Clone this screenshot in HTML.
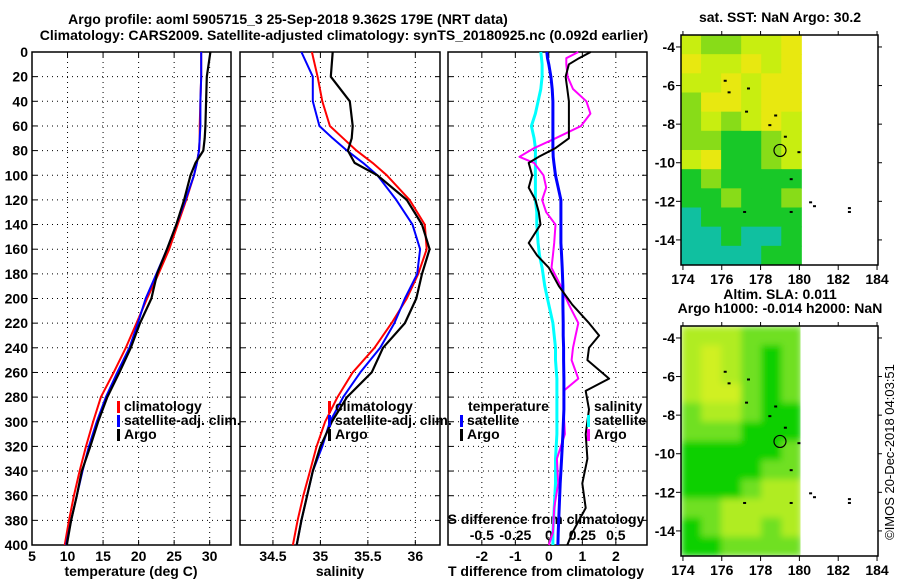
<!DOCTYPE html>
<html><head><meta charset="utf-8"><style>
html,body{margin:0;padding:0;background:#fff;}
svg{display:block;font-family:"Liberation Sans",sans-serif;font-weight:bold;font-size:14px;}
</style></head><body>
<svg id="c" width="900" height="580" viewBox="0 0 900 580">
<defs>
<filter id="blur" x="0" y="0" width="1" height="1"><feGaussianBlur stdDeviation="3.5" edgeMode="duplicate"/></filter>
<clipPath id="clipSla"><rect x="681" y="326" width="119.5" height="230"/></clipPath>
</defs>
</svg>
<script>
// ---- data ----
const depths = [0,20,40,60,70,80,90,100,120,140,160,180,200,220,240,260,280,300,320,340,360,380,400];
const tempClim = [28.8,28.8,28.7,28.6,28.6,28.5,28.2,27.8,26.7,25.5,24.3,22.8,21.2,19.7,18.2,16.5,14.7,13.6,12.6,11.7,10.9,10.2,9.6];
const tempSat  = [28.8,28.8,28.7,28.7,28.6,28.5,28.2,27.8,26.6,25.3,24.0,22.5,21.0,19.9,18.7,17.0,15.4,14.1,13.0,12.1,11.3,10.5,9.8];
const tempArgo = [30.1,29.6,29.5,29.4,29.3,29.1,28.0,27.3,26.4,25.3,24.0,22.6,21.8,20.2,18.9,17.3,15.6,14.3,13.2,12.0,11.3,10.5,9.9];
const salClim = [34.91,34.97,35.02,35.10,35.24,35.38,35.55,35.70,35.94,36.10,36.12,36.03,35.91,35.75,35.57,35.34,35.18,35.05,34.96,34.89,34.82,34.76,34.71];
const salSat  = [34.80,34.92,34.92,34.99,35.13,35.28,35.45,35.60,35.80,35.97,36.05,36.02,35.89,35.78,35.63,35.42,35.24,35.10,35.02,34.92,34.86,34.80,34.75];
const salArgo = [35.13,35.11,35.31,35.34,35.33,35.29,35.36,35.60,35.91,36.07,36.15,36.07,36.01,35.89,35.66,35.54,35.28,35.12,35.00,34.92,34.86,34.80,34.75];
const diffDepths = [0,5,10,20,30,40,50,60,70,78,85,90,100,110,120,130,140,155,165,175,190,205,220,230,240,250,265,275,290,310,330,350,370,390,400];
const dTSat  = [-0.06,-0.04,0,0.06,0.1,0.12,0.12,0.12,0.12,0.12,0.13,0.15,0.2,0.28,0.36,0.36,0.36,0.36,0.38,0.4,0.42,0.42,0.43,0.43,0.44,0.44,0.45,0.45,0.45,0.42,0.38,0.34,0.31,0.28,0.27];
const dTArgo = [1.25,0.9,0.6,0.5,0.55,0.6,0.6,0.6,0.6,0.2,-0.3,-0.6,-0.5,-0.6,-0.4,-0.3,-0.25,-0.6,-0.35,0,0.3,0.7,1.2,1.5,1.2,1.15,1.8,1.1,1.2,1.1,1.15,1.0,1.1,0.7,0.55];
const dSSat  = [-0.06,-0.055,-0.05,-0.05,-0.06,-0.08,-0.1,-0.13,-0.11,-0.1,-0.1,-0.1,-0.1,-0.1,-0.1,-0.09,-0.09,-0.08,-0.07,-0.05,-0.03,0,0.03,0.04,0.05,0.05,0.06,0.06,0.06,0.06,0.05,0.05,0.04,0.03,0.03];
const dSArgo = [0.22,0.13,0.13,0.14,0.18,0.28,0.31,0.24,0.05,-0.11,-0.22,-0.11,-0.04,-0.02,-0.05,-0.02,0.05,0.04,0.03,0.02,0.09,0.15,0.22,0.2,0.18,0.17,0.22,0.11,0.11,0.12,0.06,0.07,0.04,0.03,0];
const tempTicks = [5,10,15,20,25,30];
const salTicks = [34.5,35,35.5,36];
const dTTicks = [-2,-1,0,1,2];
const dSTicks = [-0.5,-0.25,0,0.25,0.5];
const depthTicks = [0,20,40,60,80,100,120,140,160,180,200,220,240,260,280,300,320,340,360,380,400];
const lonTicks = [174,176,178,180,182,184];
const latTicks = [-4,-6,-8,-10,-12,-14];
// map grids: rows lat -3.4..-15.3, cols lon 174..180 (class index)
const sstGrid = [
[3,2,2,3,3,4],[4,3,3,4,3,4],[3,3,4,3,4,4],[2,4,4,3,4,4],[2,3,2,3,4,3],[2,2,1,1,2,3],
[3,4,1,1,2,3],[1,2,1,1,1,1],[1,1,2,1,1,2],[0,1,1,1,1,1],[0,0,1,0,0,1],[0,0,0,0,1,1]];
const slaGrid = [
[3,3,3,2,2,2],[3,4,3,2,1,2],[3,4,3,2,1,2],[3,4,4,2,1,2],[2,3,3,2,1,1],[2,2,2,1,1,1],
[1,1,1,1,1,2],[1,1,1,1,2,2],[1,1,1,2,3,3],[2,2,3,3,3,3],[1,2,3,3,2,3],[1,1,2,2,2,2]];
const sstColors = ['#10c0a0','#18c828','#88dc18','#c8ee10','#e8e810'];
const slaColors = ['#00c000','#10d000','#70e020','#b0ec20','#d0f020'];
const islands = [[176.1,-5.7],[176.3,-6.3],[177.3,-6.1],[177.2,-7.3],[178.7,-7.5],[178.4,-8.0],[179.2,-8.6],[179.9,-9.4],[179.5,-10.8],[180.5,-12.0],[180.7,-12.2],[177.1,-12.5],[179.5,-12.5],[182.5,-12.3],[182.5,-12.5]];

const svg = document.getElementById('c');
const NS = 'http://www.w3.org/2000/svg';
function mk(tag, attrs, parent){ const e=document.createElementNS(NS,tag); for(const k in attrs) e.setAttribute(k,attrs[k]); (parent||svg).appendChild(e); return e; }
function txt(x,y,s,anchor,parent){ const t=mk('text',{x:x,y:y,'text-anchor':anchor||'middle'},parent); t.textContent=s; return t; }

const TOP=52, BOT=545;
const yD = d => TOP + d*(BOT-TOP)/400;

function panel(name, x0, x1, vmin, vmax, ticks, fmt, leftLabels){
  const g = mk('g',{});
  
  
  const sx = v => x0 + (v-vmin)*(x1-x0)/(vmax-vmin);
  depthTicks.forEach(d=>{
    const y=yD(d);
    if(d>0&&d<400) mk('line',{x1:x0,x2:x1,y1:y,y2:y,stroke:'#000','stroke-dasharray':'1 4','stroke-width':1},g);
    mk('line',{x1:x0,x2:x0+5,y1:y,y2:y,stroke:'#000'},g);
    mk('line',{x1:x1-5,x2:x1,y1:y,y2:y,stroke:'#000'},g);
    if(leftLabels){ const t=txt(x0-4,y+5,String(d),'end',g);   }
  });
  ticks.forEach(v=>{
    const x=sx(v);
    mk('line',{x1:x,x2:x,y1:TOP,y2:BOT,stroke:'#000','stroke-dasharray':'1 4'},g);
    mk('line',{x1:x,x2:x,y1:BOT-5,y2:BOT,stroke:'#000'},g);
    mk('line',{x1:x,x2:x,y1:TOP,y2:TOP+5,stroke:'#000'},g);
  });
  mk('rect',{x:x0,y:TOP,width:x1-x0,height:BOT-TOP,fill:'none',stroke:'#000','stroke-width':1.5},g);
  return {g,sx};
}
function line(p, xs, ds, vals, color, w, name){
  const pts = vals.map((v,i)=>p.sx(v).toFixed(1)+','+yD(ds[i]).toFixed(1)).join(' ');
  const l = mk('polyline',{points:pts,fill:'none',stroke:color,'stroke-width':w,'stroke-linejoin':'round'},p.g);
  
  
}
function legend(g, x, y, items){
  items.forEach((it,i)=>{
    mk('rect',{x:x,y:y+i*14-10,width:3,height:12,fill:it[0]},g);
    const t=txt(x+7,y+i*14,it[1],'start',g);
    
    
  });
}

// titles
let t = txt(288,24,'Argo profile: aoml 5905715_3 25-Sep-2018 9.362S 179E (NRT data)');
 
t = txt(344,40,'Climatology: CARS2009. Satellite-adjusted climatology: synTS_20180925.nc (0.092d earlier)');
 

// panel 1 temperature
const p1 = panel('temperature-panel',32,231,5,33,tempTicks,null,true);
tempTicks.forEach(v=>{ const e=txt(p1.sx(v),561,String(v),'middle',p1.g);   });
t = txt(131,576,'temperature (deg C)','middle',p1.g);  
line(p1,null,depths,tempClim,'#f00',2,'temp-climatology-line');
line(p1,null,depths,tempSat,'#00f',2,'temp-satellite-line');
line(p1,null,depths,tempArgo,'#000',2.2,'temp-argo-line');
legend(p1.g,117,411,[['#f00','climatology'],['#00f','satellite-adj. clim.'],['#000','Argo']]);

// panel 2 salinity
const p2 = panel('salinity-panel',240,440,34.153,36.26,salTicks,null,false);
salTicks.forEach(v=>{ const e=txt(p2.sx(v),561,String(v),'middle',p2.g);   });
t = txt(340,576,'salinity','middle',p2.g);  
line(p2,null,depths,salClim,'#f00',2,'sal-climatology-line');
line(p2,null,depths,salSat,'#00f',2,'sal-satellite-line');
line(p2,null,depths,salArgo,'#000',2.2,'sal-argo-line');
legend(p2.g,328,411,[['#f00','climatology'],['#00f','satellite-adj. clim.'],['#000','Argo']]);

// panel 3 differences
const p3 = panel('difference-panel',448,647,-3.01,2.93,dTTicks,null,false);
const sxS = v => p3.sx(v*4);
dTTicks.forEach(v=>{ const e=txt(p3.sx(v),561,String(v),'middle',p3.g);   });
dSTicks.forEach(v=>{ const e=txt(sxS(v),540,String(v),'middle',p3.g);   });
t = txt(546,576,'T difference from climatology','middle',p3.g);  
t = txt(546,524,'S difference from climatology','middle',p3.g);  
const pS = {g:p3.g, sx:sxS};
line(pS,null,diffDepths,dSSat,'#0ff',3,'s-diff-satellite-line');
line(pS,null,diffDepths,dSArgo,'#f0f',2,'s-diff-argo-line');
line(p3,null,diffDepths,dTSat,'#00f',3,'t-diff-satellite-line');
line(p3,null,diffDepths,dTArgo,'#000',2,'t-diff-argo-line');
t=txt(468,411,'temperature','start',p3.g);  
legend(p3.g,460,425,[['#00f','satellite'],['#000','Argo']]);
t=txt(594,411,'salinity','start',p3.g);  
legend(p3.g,587,425,[['#0ff','satellite'],['#f0f','Argo']]);

// maps
function map(name, top, grid, colors, titles, smooth){
  const g = mk('g',{});
  
  
  const L=681, R=878, B=top+230;
  const lonMin=173.9, lonMax=184.05, latTop=-3.38, latBot=-15.3;
  const sx = lon => L + (lon-lonMin)*(R-L)/(lonMax-lonMin);
  const sy = lat => top + (latTop-lat)*(B-top)/(latTop-latBot);
  const rows=grid.length, cols=grid[0].length;
  const lonStep=(180.1-lonMin)/cols, latStep=(latTop-latBot)/rows;
  let cg = g;
  if(smooth){ const wrap=mk('g',{'clip-path':'url(#clipSla)'},g); cg=mk('g',{filter:'url(#blur)'},wrap); }
  grid.forEach((row,r)=>row.forEach((v,c)=>{
    const x=sx(lonMin+c*lonStep), y=sy(latTop-r*latStep);
    const cell=mk('rect',{x:x,y:y,width:sx(lonMin+(c+1)*lonStep)-x+0.5,height:sy(latTop-(r+1)*latStep)-y+0.5,fill:colors[v]},cg);
    
    
  }));
  islands.forEach(p=>{ mk('rect',{x:sx(p[0]),y:sy(p[1]),width:3,height:2,fill:'#000'},g); });
  const circ = mk('circle',{cx:sx(179),cy:sy(-9.362),r:6,fill:'none',stroke:'#000','stroke-width':1.2},g);
  
  
  mk('rect',{x:L,y:top,width:R-L,height:B-top,fill:'none',stroke:'#000','stroke-width':1.5},g);
  lonTicks.forEach(v=>{ const x=sx(v); mk('line',{x1:x,x2:x,y1:B,y2:B+5,stroke:'#000'},g); mk('line',{x1:x,x2:x,y1:top,y2:top-4,stroke:'#000'},g);
    const e=txt(x,B+19,String(v),'middle',g);   });
  latTicks.forEach(v=>{ const y=sy(v); mk('line',{x1:L-5,x2:L,y1:y,y2:y,stroke:'#000'},g); mk('line',{x1:R,x2:R+4,y1:y,y2:y,stroke:'#000'},g);
    const e=txt(L-6,y+5,String(v),'end',g);   });
  titles.forEach((s,i)=>{ const e=txt(780,top-13-(titles.length-1-i)*14,s,'middle',g);   });
}
map('sst-map',35,sstGrid,sstColors,['sat. SST: NaN Argo: 30.2'],false);
map('sla-map',326,slaGrid,slaColors,['Altim. SLA: 0.011','Argo h1000: -0.014 h2000: NaN'],true);
t = txt(0,0,'©IMOS 20-Dec-2018 04:03:51','middle');
t.setAttribute('transform','translate(894,452) rotate(-90)');
t.setAttribute('style','font-weight:normal;font-size:13px');


</script>
</body></html>
